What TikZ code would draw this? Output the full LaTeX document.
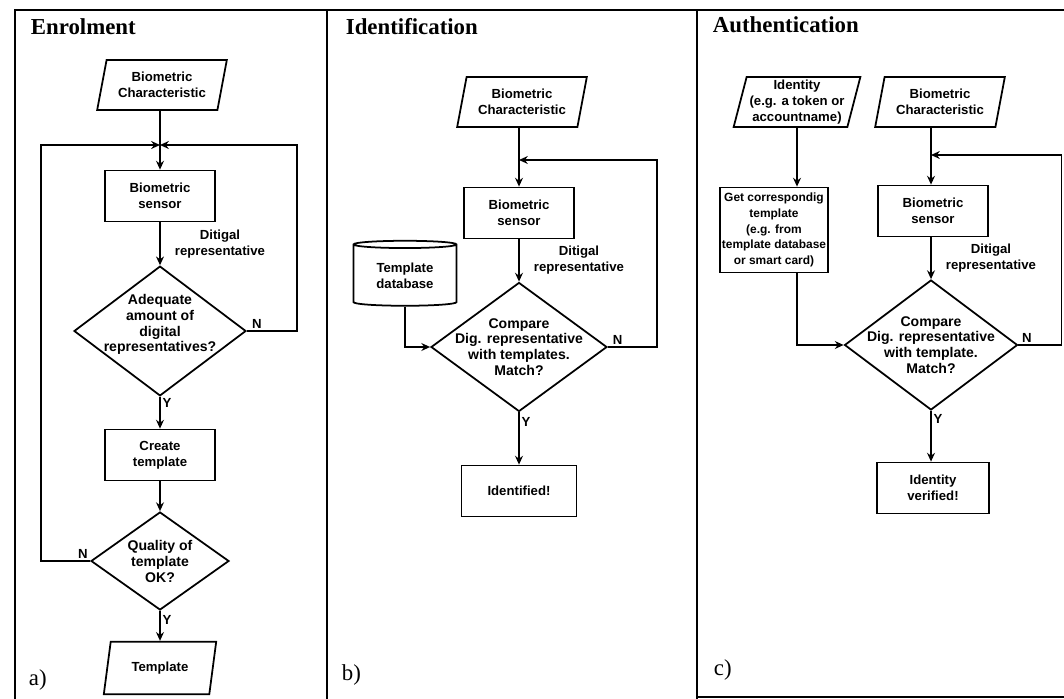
\documentclass[tikz,border=0pt]{standalone}
\usepackage{fontspec}
\setmainfont{Liberation Sans}
\newfontfamily\titlefont{Liberation Serif}
\usepackage{tikz}
\usetikzlibrary{shapes.geometric, arrows.meta, positioning}
\tikzstyle{box} = [rectangle, draw, align=center, minimum width=2.2cm, minimum height=1.02cm, inner sep=1pt]
\tikzstyle{io} = [trapezium, trapezium left angle=75, trapezium right angle=105, trapezium stretches=true, draw, align=center, minimum width=2.6cm, minimum height=1cm, inner sep=1pt]
\tikzstyle{decision} = [diamond, draw, align=center, inner sep=-8pt, font=\fontsize{8}{9}\selectfont\bfseries]
\tikzstyle{store} = [cylinder, shape border rotate=90, draw, align=center, aspect=0.12, inner sep=1pt]
\tikzstyle{line} = [draw]
\tikzstyle{flow} = [draw, -{Stealth[open, length=5pt, width=4.5pt]}]
\tikzstyle{lbl} = [inner sep=1pt, align=center]
\tikzstyle{frame} = [draw, line width=1.6pt]
\tikzstyle{title} = [font=\titlefont\bfseries\fontsize{13}{15}\selectfont, anchor=base west, inner sep=0pt]
\tikzstyle{tag} = [font=\titlefont\fontsize{13}{15}\selectfont, anchor=west, inner sep=0pt]

\begin{document}
\begin{tikzpicture}[x=0.02cm, y=-0.02cm, line width=1pt, every node/.style={font=\fontsize{7.5}{9}\selectfont\bfseries}]
	\useasboundingbox (0,0) rectangle (1064,699);

	% frame of the three panels
	\path [frame] (15,699) -- (15,10) -- (1064,10);
	\path [frame] (327,10) -- (327,699);
	\path [frame] (697,10) -- (697,699);
	\path [line] (697,697) -- (1064,697);

	\node [title] (tA) at (30,35) {Enrolment};
	\node [title] (tB) at (345,35) {Identification};
	\node [title] (tC) at (712,33) {Authentication};
	\node [tag] (a) at (28,680) {a)};
	\node [tag] (b) at (341,675) {b)};
	\node [tag] (c) at (713,670) {c)};

	% a) enrolment
	\node [io] (bcA) at (162,85) {Biometric\\Characteristic};
	\coordinate (jA) at (160,145);
	\node [box] (sensA) at (160,196) {Biometric\\sensor};
	\node [decision, minimum width=3.44cm, minimum height=2.54cm] (adeqA) at (160,331) {Adequate\\amount of\\digital\\representatives?\\\mbox{}};
	\node [box] (createA) at (160,455) {Create\\template};
	\node [decision, minimum width=2.76cm, minimum height=1.96cm] (qualA) at (160,561) {\mbox{}\\[-3pt]Quality of\\template\\OK?};
	\node [io, minimum width=2.25cm, minimum height=1.05cm] (tmplA) at (160,668) {Template};

	\path [flow] (bcA.south -| sensA) -- (sensA.north);
	\path [flow] (sensA.south) -- node [lbl, anchor=west, xshift=7pt] {Ditigal\\representative} (adeqA.north);
	\path [flow] (adeqA.south) -- node [lbl, anchor=west, pos=0.2] {Y} (createA.north);
	\path [flow] (createA.south) -- (qualA.north);
	\path [flow] (qualA.south) -- node [lbl, anchor=west, pos=0.3] {Y} (tmplA.north);
	\path [flow] (adeqA.east) -- node [lbl, above, pos=0.2] {N} ++(50,0) |- (jA);
	\path [flow] (qualA.west) -- node [lbl, above, pos=0.15] {N} ++(-49,0) |- (jA);

	% b) identification
	\node [io] (bcB) at (522,102) {Biometric\\Characteristic};
	\coordinate (jB) at (519,160);
	\node [box] (sensB) at (519,213) {Biometric\\sensor};
	\node [store, minimum width=2.06cm, minimum height=1.3cm] (db) at (405,276) {Template\\database};
	\node [decision, minimum width=3.52cm, minimum height=2.54cm] (cmpB) at (519,347) {Compare\\Dig. representative\\with templates.\\Match?};
	\node [box, minimum width=2.3cm] (idB) at (519,491) {Identified!};

	\path [flow] (bcB.south -| sensB) -- (sensB.north);
	\path [flow] (sensB.south) -- node [lbl, anchor=west, xshift=7pt] {Ditigal\\representative} (cmpB.north);
	\path [flow] (db.south) |- (cmpB.west);
	\path [flow] (cmpB.south) -- node [lbl, anchor=west, pos=0.18] {Y} (idB.north);
	\path [flow] (cmpB.east) -- node [lbl, above, pos=0.2] {N} ++(49,0) |- (jB);

	% c) authentication
	\node [io, minimum width=2.55cm] (idC) at (797,102) {Identity\\(e.g. a token or\\accountname)};
	\node [box, minimum width=2.06cm, minimum height=1.7cm, font=\fontsize{6.8}{9}\selectfont\bfseries] (getC) at (774,230) {Get correspondig\\template\\(e.g. from\\template database\\or smart card)};
	\node [io] (bcC) at (940,102) {Biometric\\Characteristic};
	\coordinate (jC) at (931,155);
	\node [box] (sensC) at (933,211) {Biometric\\sensor};
	\node [decision, minimum width=3.46cm, minimum height=2.6cm] (cmpC) at (931,345) {Compare\\Dig. representative\\with template.\\Match?};
	\node [box, minimum width=2.24cm] (verC) at (933,488) {Identity\\verified!};

	\path [flow] (idC.south) -- (idC |- getC.north);
	\path [flow] (getC.south -| idC) |- (cmpC.west);
	\path [flow] (bcC.south -| cmpC) -- (cmpC |- sensC.north);
	\path [flow] (cmpC |- sensC.south) -- node [lbl, anchor=west, xshift=7pt] {Ditigal\\representative} (cmpC.north);
	\path [flow] (cmpC.south) -- node [lbl, anchor=west, pos=0.15] {Y} (cmpC |- verC.north);
	\path [flow] (cmpC.east) -- node [lbl, above, pos=0.2] {N} ++(43,0) |- (jC);
\end{tikzpicture}
\end{document}
